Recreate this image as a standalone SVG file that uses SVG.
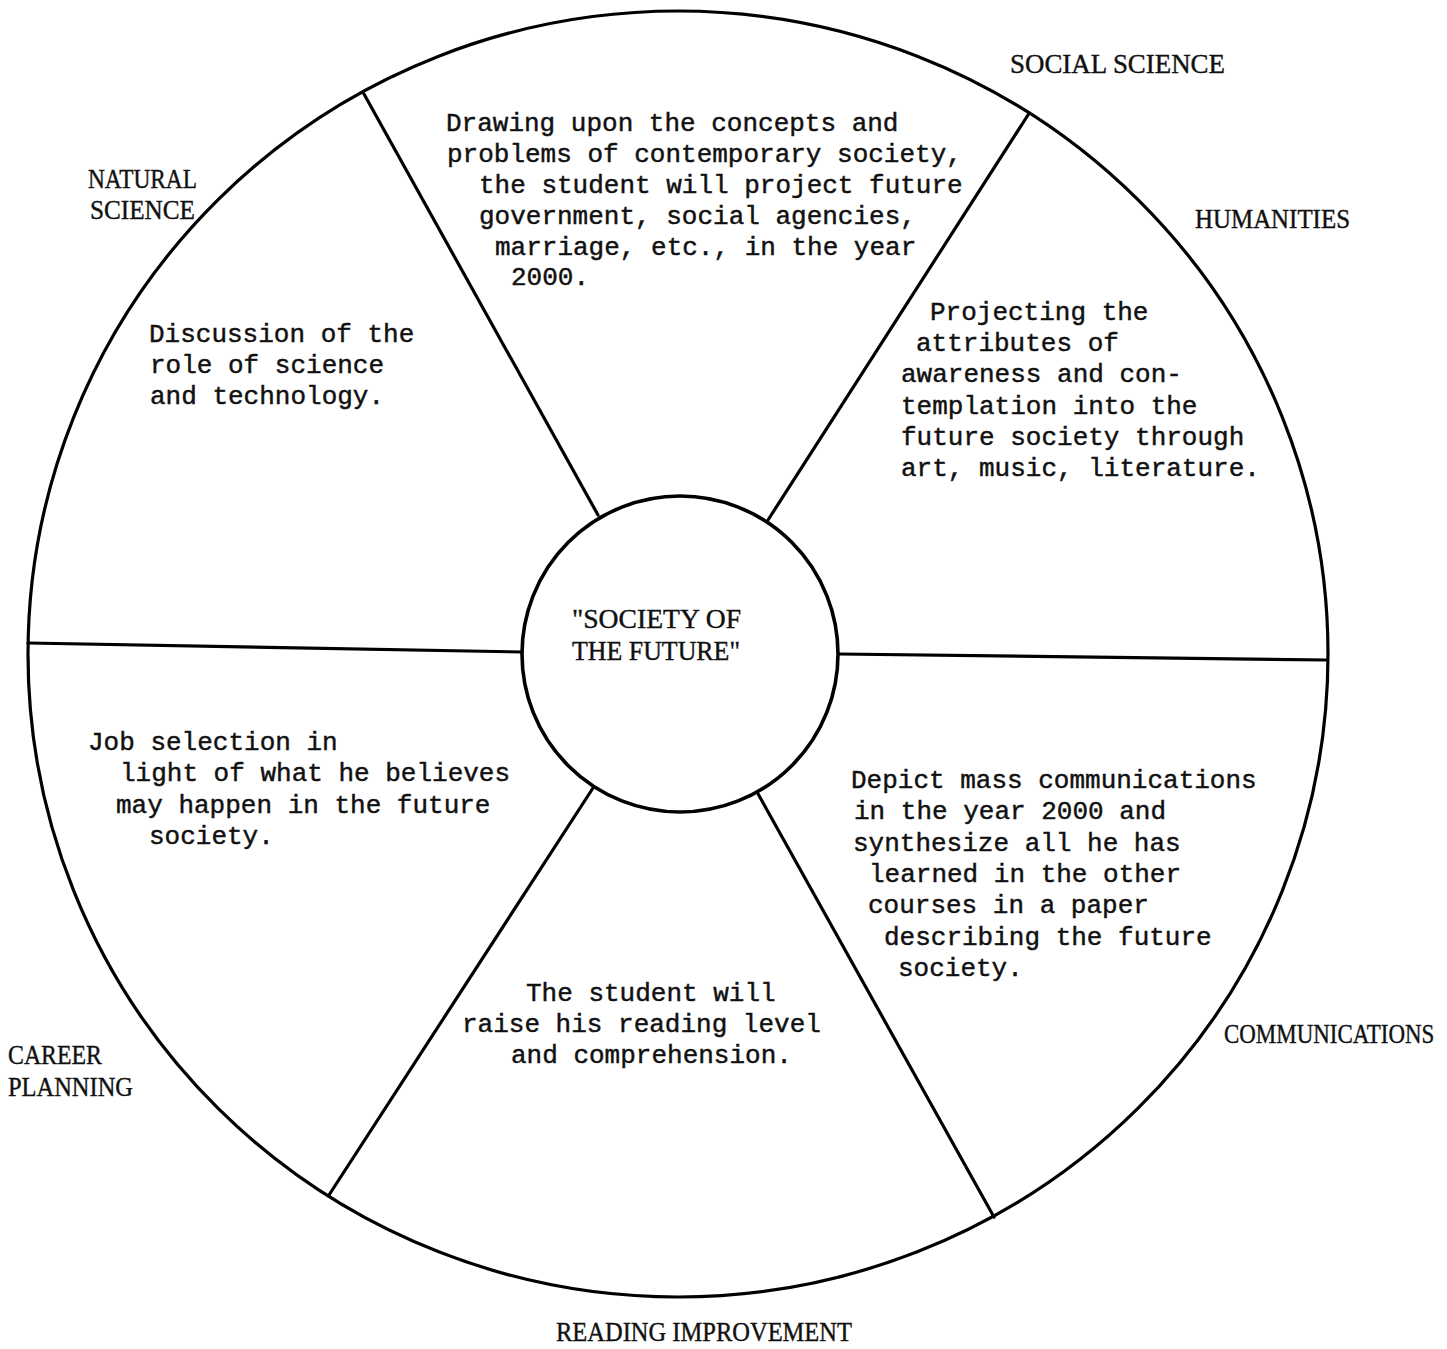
<svg xmlns="http://www.w3.org/2000/svg" width="1447" height="1349" viewBox="0 0 1447 1349">
<style>
.ln{stroke:#000;stroke-width:3.2;fill:none;stroke-linecap:round}
.body{font-family:"Liberation Mono","Courier New",monospace;font-size:26px;fill:#111;stroke:#111;stroke-width:0.45}
.lab{font-family:"Liberation Serif","Times New Roman",serif;font-size:27px;fill:#111;stroke:#111;stroke-width:0.4}
</style>
<rect width="1447" height="1349" fill="#fff"/>
<g id="wheel">
<ellipse class="ln" cx="678" cy="654" rx="650" ry="643"/>
</g>
<g id="connectors">
<line class="ln" x1="598" y1="515" x2="364" y2="94"/>
<line class="ln" x1="768" y1="520" x2="1028" y2="115"/>
<line class="ln" x1="28" y1="643" x2="523" y2="652"/>
<line class="ln" x1="838" y1="654" x2="1327" y2="660"/>
<line class="ln" x1="593" y1="788" x2="329" y2="1195"/>
<line class="ln" x1="757" y1="792" x2="994" y2="1217"/>
</g>
<g id="center">
<circle cx="680" cy="654" r="158" fill="#fff" stroke="#000" stroke-width="3.6"/>
<text class="lab" x="572" y="628" textLength="169" lengthAdjust="spacingAndGlyphs">"SOCIETY OF</text>
<text class="lab" x="572" y="660" textLength="168" lengthAdjust="spacingAndGlyphs">THE FUTURE"</text>
</g>
<g id="social-science">
<text class="lab" x="1010" y="73" textLength="215" lengthAdjust="spacingAndGlyphs">SOCIAL SCIENCE</text>
<text class="body" x="446" y="131">Drawing upon the concepts and</text>
<text class="body" x="447" y="162">problems of contemporary society,</text>
<text class="body" x="479" y="193">the student will project future</text>
<text class="body" x="479" y="224">government, social agencies,</text>
<text class="body" x="495" y="255">marriage, etc., in the year</text>
<text class="body" x="511" y="285">2000.</text>
</g>
<g id="natural-science">
<text class="lab" x="88" y="188" textLength="109" lengthAdjust="spacingAndGlyphs">NATURAL</text>
<text class="lab" x="90" y="219" textLength="105" lengthAdjust="spacingAndGlyphs">SCIENCE</text>
<text class="body" x="149" y="342">Discussion of the</text>
<text class="body" x="150" y="373">role of science</text>
<text class="body" x="150" y="404">and technology.</text>
</g>
<g id="humanities">
<text class="lab" x="1195" y="228" textLength="155" lengthAdjust="spacingAndGlyphs">HUMANITIES</text>
<text class="body" x="930" y="320">Projecting the</text>
<text class="body" x="916" y="351">attributes of</text>
<text class="body" x="901" y="382">awareness and con-</text>
<text class="body" x="901" y="414">templation into the</text>
<text class="body" x="901" y="445">future society through</text>
<text class="body" x="901" y="476">art, music, literature.</text>
</g>
<g id="career-planning">
<text class="lab" x="8" y="1064" textLength="94" lengthAdjust="spacingAndGlyphs">CAREER</text>
<text class="lab" x="8" y="1096" textLength="125" lengthAdjust="spacingAndGlyphs">PLANNING</text>
<text class="body" x="88" y="750">Job selection in</text>
<text class="body" x="120" y="781">light of what he believes</text>
<text class="body" x="116" y="813">may happen in the future</text>
<text class="body" x="149" y="844">society.</text>
</g>
<g id="reading-improvement">
<text class="lab" x="556" y="1341" textLength="296" lengthAdjust="spacingAndGlyphs">READING IMPROVEMENT</text>
<text class="body" x="526" y="1001">The student will</text>
<text class="body" x="462" y="1032">raise his reading level</text>
<text class="body" x="511" y="1063">and comprehension.</text>
</g>
<g id="communications">
<text class="lab" transform="translate(1224,1043) scale(0.85,1)" x="0" y="0">COMMUNICATIONS</text>
<text class="body" x="851" y="788">Depict mass communications</text>
<text class="body" x="854" y="819">in the year 2000 and</text>
<text class="body" x="853" y="851">synthesize all he has</text>
<text class="body" x="869" y="882">learned in the other</text>
<text class="body" x="868" y="913">courses in a paper</text>
<text class="body" x="884" y="945">describing the future</text>
<text class="body" x="898" y="976">society.</text>
</g>
</svg>
